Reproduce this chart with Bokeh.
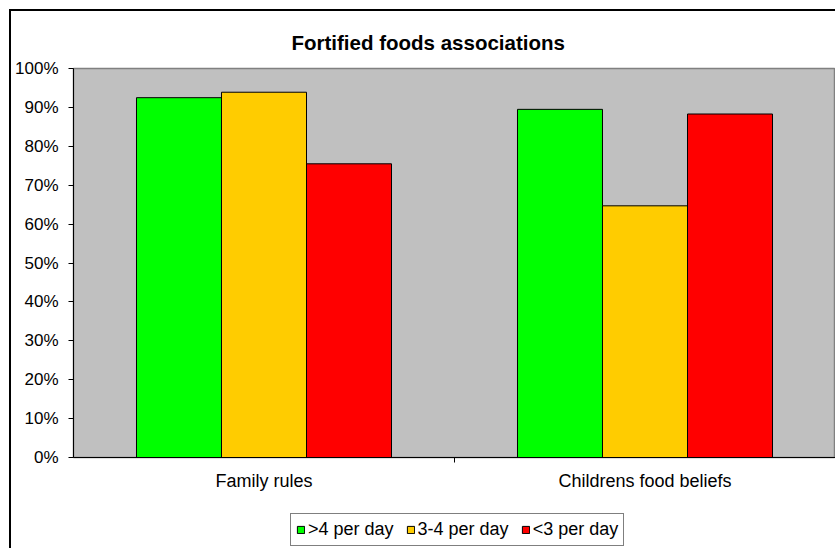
from bokeh.plotting import figure
from bokeh.layouts import column
from bokeh.models import (ColumnDataSource, Range1d, LinearAxis, FixedTicker, FactorRange,
                          NumeralTickFormatter, Legend, LegendItem, Title, CategoricalAxis)
from bokeh.transform import dodge
from bokeh.embed import file_html
from bokeh.resources import INLINE

categories = ["Family rules", "Childrens food beliefs"]
series_names = [">4 per day", "3-4 per day", "<3 per day"]
over_4 = [0.925, 0.895]
three_to_4 = [0.939, 0.647]
under_3 = [0.755, 0.883]
colors = ["#00FF00", "#FFCC00", "#FF0000"]

FONT = "Liberation Sans"

source = ColumnDataSource(dict(cat=categories, s0=over_4, s1=three_to_4, s2=under_3))

p = figure(
    x_range=categories, y_range=Range1d(0, 1),
    width=824, height=500,
    output_backend="svg", toolbar_location=None,
    min_border_left=62, min_border_right=0, min_border_top=57, min_border_bottom=54,
    x_axis_location=None, y_axis_location=None,
)

p.background_fill_color = "#C0C0C0"
p.border_fill_color = "white"
p.outline_line_color = "#808080"
p.outline_line_width = 1.5
p.xgrid.visible = False
p.ygrid.visible = False
p.x_range.range_padding = 0

bw = 0.2231
offsets = [-bw, 0.0, bw]
for i, (name, col) in enumerate(zip(series_names, colors)):
    p.vbar(x=dodge("cat", offsets[i], range=p.x_range), top=f"s{i}", width=bw,
           source=source, fill_color=col, line_color="black", line_width=1)

# y axis (percentages)
yaxis = LinearAxis(ticker=FixedTicker(ticks=[i / 10 for i in range(11)]),
                   formatter=NumeralTickFormatter(format="0%"))
yaxis.axis_line_color = "black"
yaxis.major_tick_line_color = "black"
yaxis.major_tick_in = 0
yaxis.major_tick_out = 5
yaxis.minor_tick_line_color = None
yaxis.major_label_standoff = 10
yaxis.major_label_text_font = FONT
yaxis.major_label_text_font_size = "17px"
yaxis.major_label_text_color = "black"
p.add_layout(yaxis, "left")

# x axis line with a tick mark on the boundary between the two groups
p.extra_x_ranges = {"divider": FactorRange(factors=["divider"], range_padding=0)}
edge_axis = CategoricalAxis(x_range_name="divider")
edge_axis.axis_line_color = "black"
edge_axis.major_tick_line_color = "black"
edge_axis.major_tick_in = 0
edge_axis.major_tick_out = 5
edge_axis.minor_tick_line_color = None
edge_axis.major_label_text_font_size = "0px"
edge_axis.major_label_text_color = None
edge_axis.major_label_standoff = 0
p.add_layout(edge_axis, "below")

# x axis: category names
cat_axis = CategoricalAxis()
cat_axis.axis_line_color = None
cat_axis.major_tick_line_color = None
cat_axis.minor_tick_line_color = None
cat_axis.major_label_standoff = 2
cat_axis.major_label_text_font = FONT
cat_axis.major_label_text_font_size = "18px"
cat_axis.major_label_text_color = "black"
p.add_layout(cat_axis, "below")

title = Title(text="Fortified foods associations", align="left", offset=218,
              text_font=FONT, text_font_size="20.5px", text_font_style="bold",
              text_color="black", standoff=30)
p.add_layout(title, "above")

# legend strip under the chart; its bars lie below the visible y range,
# so only the legend keys show
lf = figure(
    width=824, height=37, x_range=categories, y_range=Range1d(10, 11),
    output_backend="svg", toolbar_location=None,
    min_border=0, x_axis_location=None, y_axis_location=None,
)
lf.xgrid.visible = False
lf.ygrid.visible = False
lf.outline_line_color = None
lf.background_fill_color = "white"
lf.border_fill_color = "white"

keys = [lf.vbar(x="cat", top=f"s{i}", width=bw, source=source,
                fill_color=col, line_color="black", line_width=1)
        for i, col in enumerate(colors)]

legend = Legend(
    items=[LegendItem(label=n, renderers=[r]) for n, r in zip(series_names, keys)],
    orientation="horizontal", location=(217, 2),
    glyph_width=9, glyph_height=9, label_standoff=3, spacing=12,
    padding=5, margin=0,
    label_text_font=FONT, label_text_font_size="18px", label_text_color="black",
    border_line_color="black", border_line_width=1,
    background_fill_color="white", background_fill_alpha=1,
)
lf.add_layout(legend, "center")

chart = column(p, lf, spacing=0,
               styles={"border-left": "2px solid black", "border-top": "2px solid black",
                       "margin-left": "9px", "margin-top": "9px"})

open("out.html", "w").write(file_html(chart, INLINE))
